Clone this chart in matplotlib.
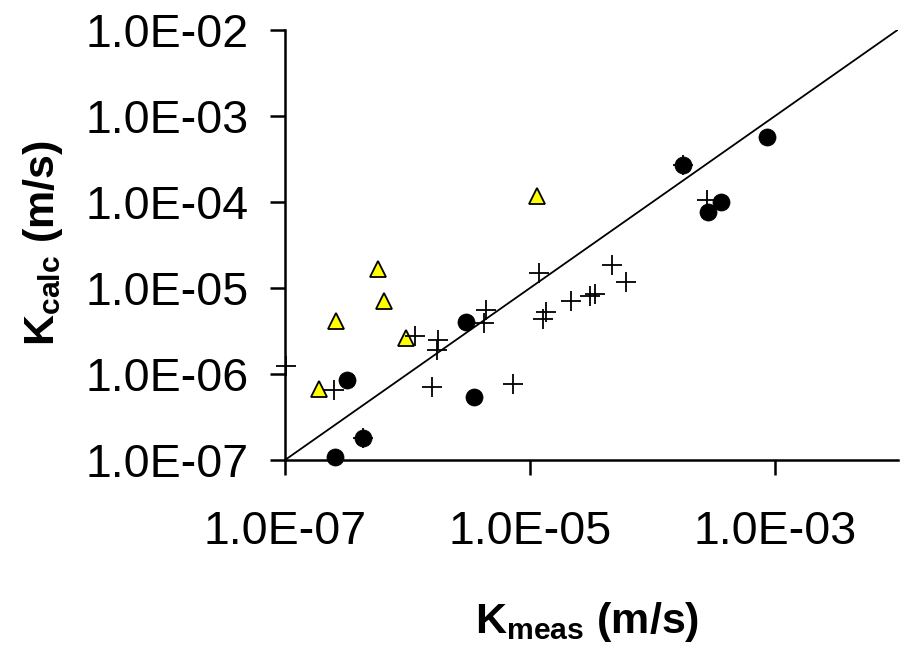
import matplotlib
matplotlib.use("Agg")
import matplotlib.pyplot as plt
from matplotlib.ticker import FixedLocator, FixedFormatter, NullLocator

plt.rcParams['font.family'] = ['Liberation Sans', 'DejaVu Sans']
plt.rcParams['mathtext.fontset'] = 'custom'
plt.rcParams['mathtext.rm'] = 'Liberation Sans'
plt.rcParams['mathtext.bf'] = 'Liberation Sans:bold'

# --- data ---
circ_x = [2.56e-7, 3.2e-7, 4.3e-7, 3.0e-6, 3.5e-6, 1.78e-4, 2.86e-4, 3.6e-4, 8.6e-4]
circ_y = [1.08e-7, 8.5e-7, 1.8e-7, 4.0e-6, 5.4e-7, 2.7e-4, 7.7e-5, 1.0e-4, 5.7e-4]

tri_x = [1.9e-7, 2.6e-7, 5.7e-7, 6.4e-7, 9.8e-7, 1.15e-5]
tri_y = [6.7e-7, 4.1e-6, 1.65e-5, 7.1e-6, 2.6e-6, 1.18e-4]

plus_x = [1.02e-7, 2.5e-7, 4.3e-7, 1.15e-6, 1.78e-6, 1.73e-6, 1.58e-6, 4.4e-6, 4.2e-6,
          7.3e-6, 1.19e-5, 1.35e-5, 1.27e-5, 2.15e-5, 3.1e-5, 3.4e-5, 4.65e-5, 6.1e-5,
          1.78e-4, 2.77e-4]
plus_y = [1.24e-6, 6.5e-7, 1.8e-7, 2.77e-6, 2.5e-6, 1.9e-6, 7.0e-7, 5.5e-6, 3.95e-6,
          7.7e-7, 1.5e-5, 5.3e-6, 4.4e-6, 7.1e-6, 8.1e-6, 8.5e-6, 1.85e-5, 1.18e-5,
          2.7e-4, 1.05e-4]

line_x = [1e-7, 1e-2]
line_y = [1e-7, 1e-2]

x_ticks = [1e-7, 1e-5, 1e-3]
x_ticklabels = ["1.0E-07", "1.0E-05", "1.0E-03"]
y_ticks = [1e-7, 1e-6, 1e-5, 1e-4, 1e-3, 1e-2]
y_ticklabels = ["1.0E-07", "1.0E-06", "1.0E-05", "1.0E-04", "1.0E-03", "1.0E-02"]

# --- figure ---
fig = plt.figure(figsize=(9.01, 6.45), dpi=100)
W, H = 901, 645
ax = fig.add_axes([285 / W, 1 - 460 / H, (897.5 - 285) / W, (460 - 30) / H])
ax.set_xscale('log')
ax.set_yscale('log')
ax.set_xlim(1e-7, 1e-2)
ax.set_ylim(1e-7, 1e-2)

ax.plot(line_x, line_y, color='black', lw=1.3, zorder=2)
ax.plot(tri_x, tri_y, linestyle='none', marker='^', ms=11.5, mfc='#FFFF00',
        mec='black', mew=1.3, clip_on=False, zorder=3)
ax.plot(plus_x, plus_y, linestyle='none', marker='+', ms=15, color='black',
        mew=1.3, clip_on=False, zorder=4)
ax.plot(circ_x, circ_y, linestyle='none', marker='o', ms=12.3, mfc='black',
        mec='black', mew=0.5, clip_on=False, zorder=5)

for s in ('top', 'right'):
    ax.spines[s].set_visible(False)
for s in ('left', 'bottom'):
    ax.spines[s].set_linewidth(1.8)
ax.xaxis.set_major_locator(FixedLocator(x_ticks))
ax.xaxis.set_major_formatter(FixedFormatter(x_ticklabels))
ax.yaxis.set_major_locator(FixedLocator(y_ticks))
ax.yaxis.set_major_formatter(FixedFormatter(y_ticklabels))
ax.xaxis.set_minor_locator(NullLocator())
ax.yaxis.set_minor_locator(NullLocator())
ax.tick_params(axis='both', which='major', direction='out', length=11, width=1.8,
               labelsize=33.5)
ax.tick_params(axis='x', pad=25)
ax.tick_params(axis='y', pad=15)

fig.text(587 / W, 1 - 633 / H, r'$\mathbf{K}_{\mathbf{meas}}$ (m/s)', fontsize=31,
         fontweight='bold', ha='center', va='baseline')
fig.text(43 / W, 1 - 243 / H, r'$\mathbf{K}_{\mathbf{calc}}$ (m/s)', fontsize=31,
         fontweight='bold', ha='center', va='center', rotation=90)

fig.savefig('out.png', dpi=100)
